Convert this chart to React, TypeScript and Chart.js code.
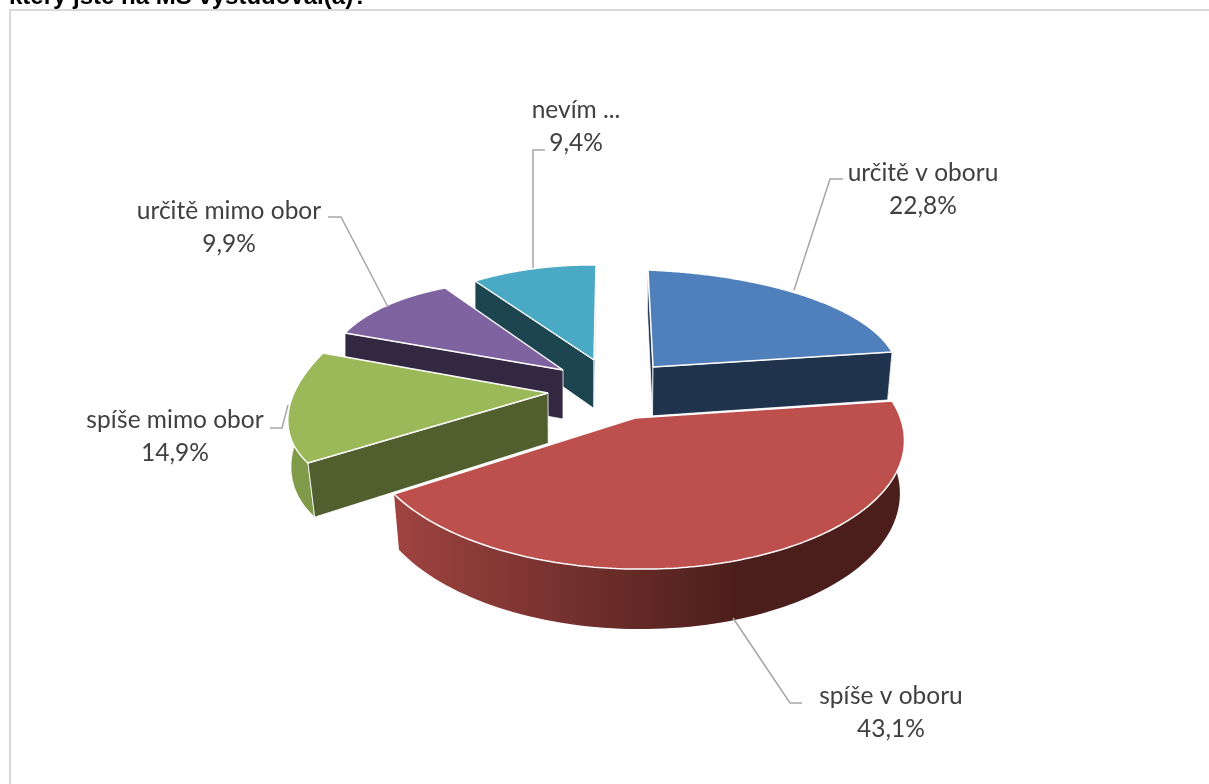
import React, { useEffect, useRef } from "react";
import { Chart, registerables } from "chart.js";

Chart.register(...registerables);

const categories = ["určitě v oboru", "spíše v oboru", "spíše mimo obor", "určitě mimo obor", "nevím ..."];
const shares = [22.8, 43.1, 14.9, 9.9, 9.4];
const topColors = ["#4f80bb", "#bd4f4c", "#9bb958", "#7f62a0", "#4aa9c5"];
const cutColors = ["#1f334d", "#1f334d", "#505f2d", "#332842", "#1d4550"];
const curveColors = ["#1f334d", "#4b1e1b", "#7f9a48", "#332842", "#1d4550"];

const titleText = "který jste na MŠ vystudoval(a)?";
const drawOrder = [4, 0, 3, 2, 1];

// screen anchors of each exploded slice: apex, first edge, last edge, the rim at mid-angle
const anchors: number[][][] = [
  [[653, 367], [648, 270], [892, 352], [808, 297]],
  [[635, 418], [892, 401], [394, 494], [749, 558]],
  [[548, 393], [308, 463], [323, 353], [288, 415]],
  [[563, 370], [345, 333], [445, 288], [388, 305]],
  [[594, 360], [475, 281], [596, 265], [535, 268.5]],
];

const labelBoxes = [
  { x: 923, y: 181, line: [[794, 290], [830, 179], [843, 179]] },
  { x: 891, y: 704, line: [[733, 618], [790, 703], [802, 703]] },
  { x: 175, y: 428, line: [[288, 405], [282, 428], [270, 428]] },
  { x: 229, y: 219, line: [[388, 307], [341, 217], [328, 217]] },
  { x: 576, y: 118, line: [[533, 268], [533, 150], [545, 150]] },
];

type Pt = number[];

function solveHomography(src: Pt[], dst: Pt[]): number[] {
  const m: number[][] = [];
  src.forEach((s, i) => {
    const [x, y] = s;
    const [X, Y] = dst[i];
    m.push([x, y, 1, 0, 0, 0, -x * X, -y * X, X]);
    m.push([0, 0, 0, x, y, 1, -x * Y, -y * Y, Y]);
  });
  for (let c = 0; c < 8; c++) {
    let p = c;
    for (let r = c + 1; r < 8; r++) if (Math.abs(m[r][c]) > Math.abs(m[p][c])) p = r;
    [m[c], m[p]] = [m[p], m[c]];
    for (let r = 0; r < 8; r++) {
      if (r === c) continue;
      const f = m[r][c] / m[c][c];
      for (let k = c; k < 9; k++) m[r][k] -= f * m[c][k];
    }
  }
  const h = m.map((row, i) => row[8] / row[i]);
  h.push(1);
  return h;
}

const applyH = (h: number[], x: number, y: number): Pt => {
  const w = h[6] * x + h[7] * y + h[8];
  return [(h[0] * x + h[1] * y + h[2]) / w, (h[3] * x + h[4] * y + h[5]) / w];
};

// the pie's thickness, in screen space: lower points are closer, and verticals converge
const extrude = (p: Pt): Pt => {
  const lean =
    p[0] < 620
      ? (620 - p[0]) * 0.022 * Math.min(1, Math.max(0, (p[1] - 380) / 85))
      : (620 - p[0]) * 0.016;
  return [p[0] + lean, p[1] + 48 + (p[1] - 352) * 0.055];
};

// A context that lets ArcElement draw itself, but through a perspective mapping.
function projectedContext(ctx: CanvasRenderingContext2D, map: (x: number, y: number) => Pt) {
  let tx = 0;
  let ty = 0;
  const stack: number[][] = [];
  const own: Record<string, any> = {
    save() { stack.push([tx, ty]); ctx.save(); },
    restore() { [tx, ty] = stack.pop() || [0, 0]; ctx.restore(); },
    translate(a: number, b: number) { tx += a; ty += b; },
    moveTo(x: number, y: number) { const p = map(x + tx, y + ty); ctx.moveTo(p[0], p[1]); },
    lineTo(x: number, y: number) { const p = map(x + tx, y + ty); ctx.lineTo(p[0], p[1]); },
    arc(x: number, y: number, r: number, a0: number, a1: number, ccw?: boolean) {
      let span = a1 - a0;
      if (ccw && span > 0) span -= Math.PI * 2;
      if (!ccw && span < 0) span += Math.PI * 2;
      const n = 96;
      for (let i = 0; i <= n; i++) {
        const a = a0 + (span * i) / n;
        const p = map(x + tx + r * Math.cos(a), y + ty + r * Math.sin(a));
        ctx.lineTo(p[0], p[1]);
      }
    },
  };
  return new Proxy(ctx, {
    get(t: any, k: string) {
      if (k in own) return own[k];
      const v = t[k];
      return typeof v === "function" ? v.bind(t) : v;
    },
    set(t: any, k: string, v: any) { t[k] = v; return true; },
  });
}

function fillPolygon(ctx: CanvasRenderingContext2D, pts: Pt[], fill: any, edge: boolean) {
  ctx.beginPath();
  pts.forEach((p, i) => (i ? ctx.lineTo(p[0], p[1]) : ctx.moveTo(p[0], p[1])));
  ctx.closePath();
  ctx.fillStyle = fill;
  ctx.fill();
  if (edge) {
    ctx.strokeStyle = "rgba(255,255,255,0.8)";
    ctx.lineWidth = 1;
    ctx.stroke();
  }
}

const cross = (a: Pt, b: Pt) => a[0] * b[1] - a[1] * b[0];

const pie3d = {
  id: "pie3d",
  beforeDatasetsDraw(chart: any) {
    const ctx: CanvasRenderingContext2D = chart.ctx;
    const arcs = chart.getDatasetMeta(0).data;
    const pos = (a: number): Pt => [Math.cos(a), Math.sin(a)];

    // the frame and the clipped line of text above the chart
    ctx.save();
    ctx.strokeStyle = "#d9d9d9";
    ctx.lineWidth = 2;
    ctx.beginPath();
    ctx.moveTo(10, 784);
    ctx.lineTo(10, 10);
    ctx.lineTo(1209, 10);
    ctx.stroke();
    ctx.fillStyle = "#000000";
    ctx.font = "bold 24px 'Liberation Sans'";
    ctx.textAlign = "left";
    ctx.textBaseline = "alphabetic";
    ctx.fillText(titleText, 9, 4);
    ctx.restore();

    for (const i of drawOrder) {
      const arc = arcs[i];
      const a0 = arc.startAngle;
      const a1 = arc.endAngle;
      const mid = (a0 + a1) / 2;
      const h = solveHomography([[0, 0], pos(a0), pos(a1), pos(mid)], anchors[i]);
      const project = (a: number) => {
        const p = pos(a);
        return applyH(h, p[0], p[1]);
      };
      const rim: Pt[] = [];
      for (let k = 0; k <= 96; k++) rim.push(project(a0 + ((a1 - a0) * k) / 96));
      const rimLow = rim.map(extrude).reverse();
      const apex = applyH(h, 0, 0);
      const midPt = project(mid);

      let curved: any = curveColors[i];
      if (i === 1) {
        curved = ctx.createLinearGradient(398, 0, 900, 0);
        curved.addColorStop(0, "#9e4340");
        curved.addColorStop(0.68, "#4b1e1b");
        curved.addColorStop(1, "#4b1e1b");
      }
      fillPolygon(ctx, [...rim, ...rimLow], curved, i === 2);
      for (const a of [a0, a1]) {
        const end = project(a);
        const e = [end[0] - apex[0], end[1] - apex[1]];
        const low = extrude(apex);
        const d = [low[0] - apex[0], low[1] - apex[1]];
        const m = [midPt[0] - apex[0], midPt[1] - apex[1]];
        if (cross(e, d) * cross(e, m) < 0) {
          fillPolygon(ctx, [apex, end, extrude(end), low], cutColors[i], true);
        }
      }

      const R = arc.outerRadius;
      const pctx = projectedContext(ctx, (x, y) => applyH(h, (x - arc.x) / R, (y - arc.y) / R));
      arc.draw(pctx);
    }

    // leader lines and labels
    ctx.save();
    categories.forEach((name, i) => {
      const box = labelBoxes[i];
      ctx.strokeStyle = "#a6a6a6";
      ctx.lineWidth = 1.5;
      ctx.beginPath();
      box.line.forEach((p, k) => (k ? ctx.lineTo(p[0], p[1]) : ctx.moveTo(p[0], p[1])));
      ctx.stroke();
      ctx.fillStyle = "#404040";
      ctx.font = "24.5px Lato";
      ctx.textAlign = "center";
      ctx.textBaseline = "alphabetic";
      ctx.fillText(name, box.x, box.y);
      ctx.fillText(shares[i].toFixed(1).replace(".", ",") + "%", box.x, box.y + 32.5);
    });
    ctx.restore();
    return false;
  },
};

export default function App() {
  const ref = useRef<HTMLCanvasElement>(null);
  useEffect(() => {
    const chart = new Chart(ref.current as HTMLCanvasElement, {
      type: "pie",
      data: {
        labels: categories,
        datasets: [
          {
            data: shares,
            backgroundColor: topColors,
            borderColor: "#ffffff",
            borderWidth: 1.5,
          },
        ],
      },
      options: {
        animation: false,
        responsive: false,
        plugins: { legend: { display: false }, tooltip: { enabled: false } },
      },
      plugins: [pie3d],
    } as any);
    return () => chart.destroy();
  }, []);
  return (
    <div style={{ position: "fixed", left: 0, top: 0, width: 1209, height: 784, background: "#ffffff" }}>
      <canvas ref={ref} width={1209} height={784} style={{ display: "block" }} />
    </div>
  );
}
